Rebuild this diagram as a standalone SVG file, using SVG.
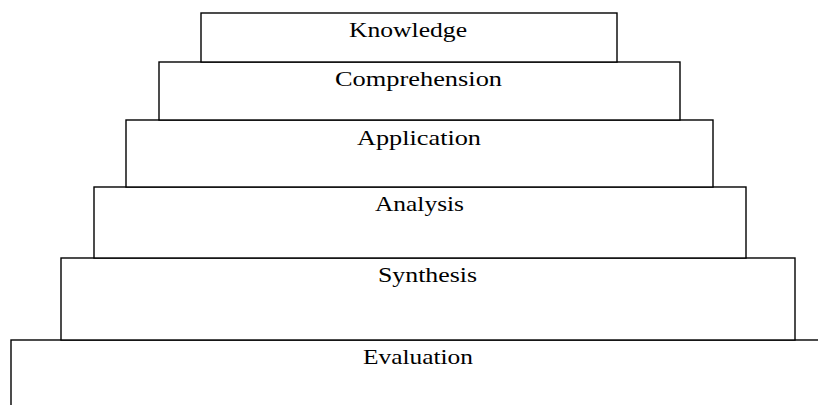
<svg xmlns="http://www.w3.org/2000/svg" width="818" height="405" viewBox="0 0 818 405">
<style>
.box{fill:#fff;stroke:#000;stroke-width:1.4}
.lbl{font-family:"Liberation Serif","Times New Roman",serif;font-size:21px;fill:#000}
</style>
<rect width="818" height="405" fill="#fff"/>
<g id="evaluation"><rect class="box" x="11" y="340" width="830" height="90"/><text class="lbl" x="363" y="363.5" textLength="110" lengthAdjust="spacingAndGlyphs">Evaluation</text></g>
<g id="synthesis"><rect class="box" x="61" y="258" width="734" height="82"/><text class="lbl" x="378" y="282" textLength="99" lengthAdjust="spacingAndGlyphs">Synthesis</text></g>
<g id="analysis"><rect class="box" x="94" y="187" width="652" height="71"/><text class="lbl" x="375" y="211" textLength="89" lengthAdjust="spacingAndGlyphs">Analysis</text></g>
<g id="application"><rect class="box" x="126" y="120" width="587" height="67"/><text class="lbl" x="357" y="145" textLength="124" lengthAdjust="spacingAndGlyphs">Application</text></g>
<g id="comprehension"><rect class="box" x="159" y="62" width="521" height="58"/><text class="lbl" x="335" y="86" textLength="167" lengthAdjust="spacingAndGlyphs">Comprehension</text></g>
<g id="knowledge"><rect class="box" x="201" y="13" width="416" height="49"/><text class="lbl" x="349" y="37" textLength="118" lengthAdjust="spacingAndGlyphs">Knowledge</text></g>
<g id="connectors"/>
</svg>
